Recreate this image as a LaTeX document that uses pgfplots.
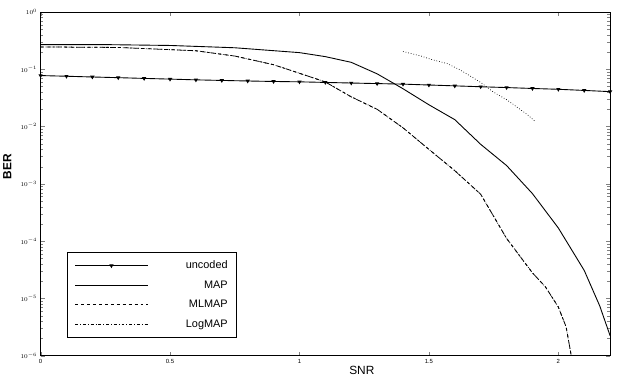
\documentclass[border=0pt]{standalone}
\usepackage{pgfplots}
\pgfplotsset{compat=1.18}
\usepackage{fontspec}
\setmainfont{Liberation Sans}
\begin{document}
\begin{tikzpicture}
\begin{axis}[
  at={(0,0)}, anchor=south west,
  scale only axis,
  width=573bp, height=346bp,
  xmin=0, xmax=2.2,
  ymode=log, ymin=1e-6, ymax=1,
  xtick={0,0.5,1,1.5,2},
  xticklabels={0,0.5,1,1.5,2},
  ytick={1e-6,1e-5,1e-4,1e-3,1e-2,1e-1,1},
  tick label style={font=\fontsize{6}{7}\selectfont},
  tick align=inside,
  axis line style={line width=0.8pt},
  xlabel={SNR},
  ylabel={BER},
  xlabel style={font=\fontsize{12}{14}\selectfont, at={(axis description cs:0.564,-0.02)}, anchor=north},
  ylabel style={font=\fontsize{12}{14}\selectfont\bfseries, at={(axis description cs:-0.045,0.55)}, anchor=south},
  legend cell align=right,
  legend image code/.code={\draw[mark repeat=2,mark phase=2,#1] plot coordinates {(0bp,0bp) (36.5bp,0bp) (73bp,0bp)};},
  legend style={at={(0.047,0.052)}, anchor=south west, font=\fontsize{11}{12}\selectfont,
    line width=0.8pt, inner xsep=7bp, inner ysep=8bp, row sep=8.5bp,
    nodes={text width=78bp, align=right, inner ysep=1bp}},
]
% uncoded
\addplot[black, line width=0.9pt, mark=triangle*, mark size=1.6pt, mark options={rotate=180, solid}] coordinates {
(0,0.0776) (0.1,0.0755) (0.2,0.0733) (0.3,0.0713) (0.4,0.0692) (0.5,0.0673)
(0.6,0.0653) (0.7,0.0638) (0.8,0.0624) (0.9,0.0612) (1.0,0.0603) (1.1,0.0589)
(1.2,0.0575) (1.3,0.0562) (1.4,0.0550) (1.5,0.0531) (1.6,0.0513) (1.7,0.0495)
(1.8,0.0479) (1.9,0.0462) (2.0,0.0447) (2.1,0.0427) (2.2,0.0407)};
\addlegendentry{uncoded}
% MAP
\addplot[black, line width=0.9pt] coordinates {
(0,0.269) (0.25,0.269) (0.5,0.260) (0.75,0.237) (1.0,0.195) (1.1,0.166)
(1.2,0.132) (1.3,0.0832) (1.4,0.0457) (1.5,0.0240) (1.6,0.0132) (1.7,0.00490)
(1.8,0.00209) (1.9,6.76e-4) (2.0,1.70e-4) (2.1,3.09e-5) (2.16,7.41e-6) (2.2,2.24e-6)};
\addlegendentry{MAP}
% MLMAP
\addplot[black, line width=0.8pt, dashed] coordinates {
(0,0.245) (0.3,0.240) (0.6,0.210) (0.75,0.170) (0.9,0.120) (1.0,0.085)
(1.1,0.060) (1.2,0.033) (1.3,0.020) (1.4,0.0095) (1.5,0.0040) (1.6,0.0017)
(1.7,6.6e-4) (1.8,1.12e-4) (1.9,2.8e-5) (1.95,1.6e-5) (2.0,7.1e-6) (2.03,3.2e-6) (2.05,1e-6)};
\addlegendentry{MLMAP}
% LogMAP
\addplot[black, line width=0.8pt, dash dot] coordinates {
(0,0.245) (0.3,0.240) (0.6,0.210) (0.75,0.170) (0.9,0.120) (1.0,0.085)
(1.1,0.060) (1.2,0.033) (1.3,0.020) (1.4,0.0095) (1.5,0.0040) (1.6,0.0017)
(1.7,6.6e-4) (1.8,1.12e-4) (1.9,2.8e-5) (1.95,1.6e-5) (2.0,7.1e-6) (2.03,3.2e-6) (2.05,1e-6)};
\addlegendentry{LogMAP}
% unlabelled dotted curve
\addplot[black, line width=0.7pt, dotted, forget plot] coordinates {
(1.40,0.204) (1.47,0.170) (1.51,0.148) (1.57,0.126) (1.62,0.0977) (1.66,0.0759)
(1.70,0.0589) (1.75,0.0398) (1.80,0.0295) (1.84,0.0219) (1.88,0.0162) (1.91,0.0123)};
\end{axis}
\path[use as bounding box] (-37bp,-26bp) rectangle (591bp,358bp);
\end{tikzpicture}
\end{document}
